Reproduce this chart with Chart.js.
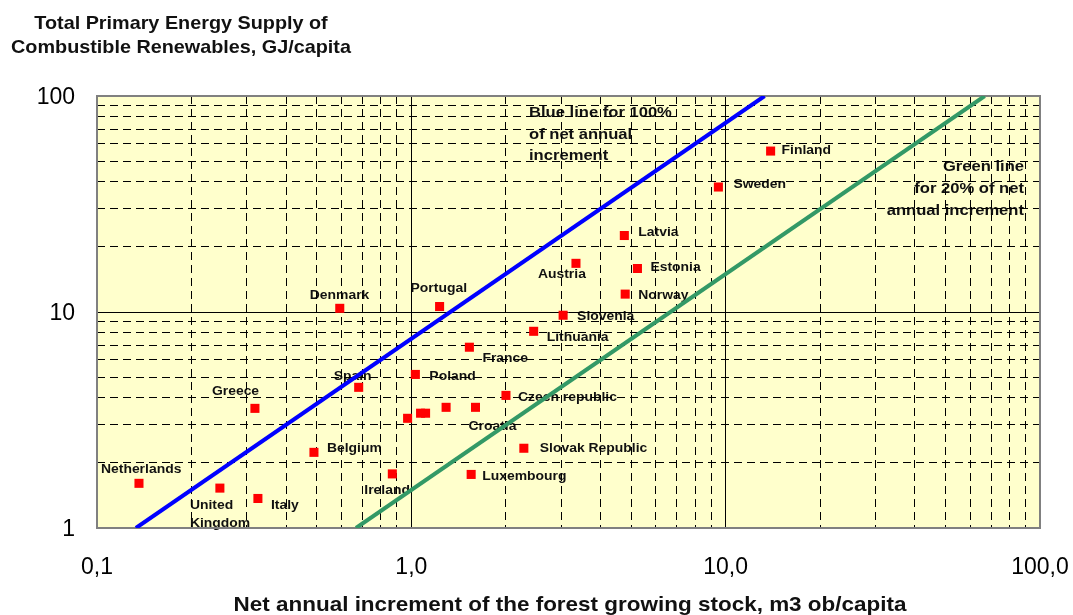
<!DOCTYPE html>
<html><head><meta charset="utf-8">
<script src="https://cdn.jsdelivr.net/npm/chart.js@4"></script>
<style>html,body{margin:0;padding:0;background:#fff;} canvas{display:block;}</style>
</head><body>
<canvas id="c" width="1073" height="615"></canvas>
<script>
// ---- data ----
const countries = ["Netherlands","United Kingdom","Italy","Greece","Belgium","Ireland","Spain","Denmark","Portugal","Poland","","","","","Croatia","France","Czech republic","Slovak Republic","Luxembourg","Lithuania","Slovenia","Austria","Latvia","Estonia","Norway","Sweden","Finland"];
const forestIncrement = [0.136,0.246,0.325,0.318,0.49,0.87,0.68,0.592,1.23,1.03,0.973,1.07,1.11,1.29,1.60,1.53,2.0,2.28,1.55,2.45,3.04,3.34,4.76,5.24,4.79,9.48,13.9];
const energySupply   = [1.61,1.53,1.37,3.58,2.24,1.78,4.48,10.4,10.6,5.14,3.22,3.40,3.40,3.62,3.62,6.87,4.11,2.34,1.77,8.14,9.66,16.8,22.6,15.9,12.1,37.9,55.6];
const blueLineX = [0.133, 13.3];
const blueLineY = [1, 100];
const greenLineX = [0.667, 66.7];
const greenLineY = [1, 100];
const xTickValues = [0.1, 1, 10, 100];
const xTickLabels = ["0,1", "1,0", "10,0", "100,0"];
const yTickValues = [1, 10, 100];
const yTickLabels = ["1", "10", "100"];
const yTitleLines = ["Total Primary Energy Supply of", "Combustible Renewables, GJ/capita"];
const xTitle = "Net annual increment of the forest growing stock, m3 ob/capita";
const blueNote = ["Blue line for 100%", "of net annual", "increment"];
const greenNote = ["Green line", "for 20% of net", "annual increment"];

// label placement relative to marker (pixels)
const labelDx = [-38,-30,13,-43,13,-28,-25,-30,-29,14,0,0,0,0,-7,13,12,16,11,13,14,-38,14,13,13,15,11];
const labelDy = [-14,17,7,-17,-4,17,-11,-13,-18,2,0,0,0,0,19,11,2,0,2,6,1,11,-3,-1,1,-3,-1];

const points = forestIncrement.map((x, i) => ({x: x, y: energySupply[i]}));
const bluePts = blueLineX.map((x, i) => ({x: x, y: blueLineY[i]}));
const greenPts = greenLineX.map((x, i) => ({x: x, y: greenLineY[i]}));

const FONT = "'Liberation Sans', Arial, sans-serif";
const SX = 1.07;

function logTicks(scale) {
  const out = [];
  const e0 = Math.floor(Math.log10(scale.min) + 1e-9), e1 = Math.round(Math.log10(scale.max));
  for (let e = e0; e <= e1; e++) {
    for (let m = 1; m <= 9; m++) {
      const v = parseFloat((m * Math.pow(10, e)).toPrecision(6));
      if (v >= scale.min - 1e-12 && v <= scale.max + 1e-9) out.push({value: v, major: m === 1});
    }
  }
  scale.ticks = out;
}
function drawText(ctx, str, x, y, font, align) {
  ctx.save();
  ctx.font = font;
  ctx.fillStyle = '#111';
  ctx.textAlign = align;
  ctx.textBaseline = 'middle';
  ctx.translate(x, y);
  ctx.scale(SX, 1);
  ctx.fillText(str, 0, 0);
  ctx.restore();
}

const decor = {
  id: 'decor',
  beforeDraw(chart) {
    const {ctx, chartArea: a} = chart;
    ctx.save();
    ctx.fillStyle = '#ffffcc';
    ctx.fillRect(a.left, a.top, a.right - a.left, a.bottom - a.top);
    ctx.restore();
    const meta = chart.getDatasetMeta(0);
    const lf = "bold 13px " + FONT;
    countries.forEach((name, i) => {
      if (!name) return;
      const el = meta.data[i];
      const x = el.x + labelDx[i], y = el.y + labelDy[i];
      if (name === "United Kingdom") {
        drawText(ctx, "United", x, y, lf, 'left');
        drawText(ctx, "Kingdom", x, y + 18, lf, 'left');
      } else {
        drawText(ctx, name, x, y, lf, 'left');
      }
    });
    const nf = "bold 15.5px " + FONT;
    blueNote.forEach((t, i) => drawText(ctx, t, 529, 113 + i * 21.3, nf, 'left'));
    greenNote.forEach((t, i) => drawText(ctx, t, 1024, 167 + i * 22, nf, 'right'));
    const tf = "bold 18.5px " + FONT;
    drawText(ctx, yTitleLines[0], 181, 24, tf, 'center');
    drawText(ctx, yTitleLines[1], 181, 48, tf, 'center');
    drawText(ctx, xTitle, 570, 605, "bold 21px " + FONT, 'center');
  },
  beforeDatasetsDraw(chart) {
    const {ctx, chartArea: a} = chart;
    ctx.save();
    ctx.strokeStyle = '#808080';
    ctx.lineWidth = 2;
    ctx.strokeRect(a.left, a.top, a.right - a.left, a.bottom - a.top);
    ctx.restore();
  }
};

const dashFn = (c) => (c.tick && !c.tick.major) ? [8, 5] : [];

new Chart(document.getElementById('c'), {
  type: 'scatter',
  data: {
    datasets: [
      {data: points, pointStyle: 'rect', pointRadius: 6.4, pointHoverRadius: 6.4, backgroundColor: '#ff0000', borderColor: '#ff0000', borderWidth: 0, order: 0},
      {type: 'line', data: bluePts, borderColor: '#0000ff', borderWidth: 4, pointRadius: 0, fill: false, order: 1},
      {type: 'line', data: greenPts, borderColor: '#339966', borderWidth: 4, pointRadius: 0, fill: false, order: 2}
    ]
  },
  options: {
    responsive: false, animation: false, devicePixelRatio: 1,
    layout: {padding: {top: 96, right: 33, left: 0, bottom: 0}},
    plugins: {legend: {display: false}, tooltip: {enabled: false}, title: {display: false}},
    scales: {
      x: {
        type: 'logarithmic', min: xTickValues[0], max: xTickValues[xTickValues.length - 1],
        afterBuildTicks: logTicks,
        afterFit(s) { s.height = 87; s.paddingLeft = 0; s.paddingRight = 0; },
        grid: {color: '#000', lineWidth: 1, drawTicks: false},
        border: {display: false, dash: dashFn},
        ticks: {autoSkip: false, maxRotation: 0, minRotation: 0, padding: 26, color: '#000',
          font: {family: FONT, size: 23},
          callback(v) { const k = xTickValues.findIndex(t => Math.abs(t - v) < 1e-9); return k >= 0 ? xTickLabels[k] : ''; }}
      },
      y: {
        type: 'logarithmic', min: yTickValues[0], max: yTickValues[yTickValues.length - 1],
        afterBuildTicks: logTicks,
        afterFit(s) { s.width = 97; s.paddingTop = 0; s.paddingBottom = 0; },
        grid: {color: '#000', lineWidth: 1, drawTicks: false},
        border: {display: false, dash: dashFn},
        ticks: {autoSkip: false, padding: 22, color: '#000', labelOffset: 2,
          font: {family: FONT, size: 23},
          callback(v) { const k = yTickValues.findIndex(t => Math.abs(t - v) < 1e-9); return k >= 0 ? yTickLabels[k] : ''; }}
      }
    }
  },
  plugins: [decor]
});
</script>
</body></html>
